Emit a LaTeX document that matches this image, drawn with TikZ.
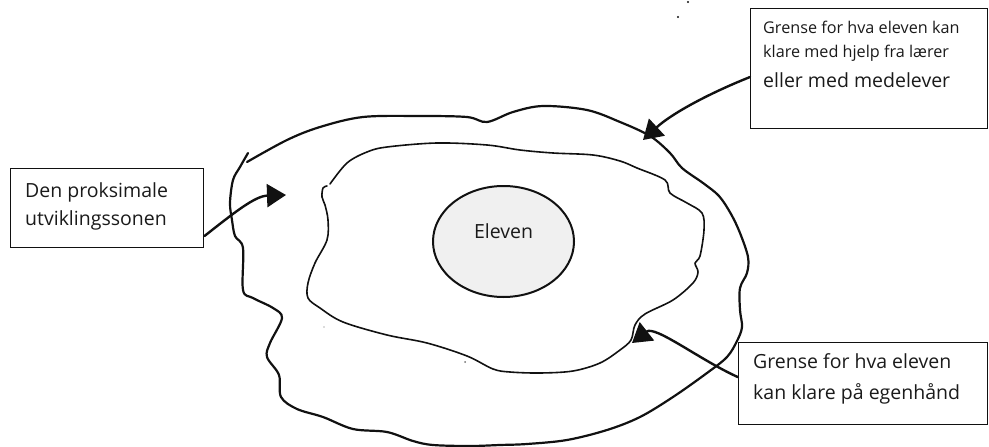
\documentclass[tikz,border=0pt]{standalone}
\usepackage{fontspec}
\newfontfamily\labelfont{Open Sans}
\usetikzlibrary{arrows.meta,shapes.geometric}

\definecolor{inkcol}{HTML}{111111}
\definecolor{textcol}{HTML}{1A1A1A}
\definecolor{corefill}{HTML}{F0F0F0}

\begin{document}
\begin{tikzpicture}[x=1pt,y=-1pt,
  zoneline/.style={draw=inkcol,line width=2.2pt,line cap=round,line join=round},
  innerline/.style={draw=inkcol,line width=1.6pt,line cap=round,line join=round},
  labelbox/.style={draw=inkcol,line width=1.4pt,rectangle,inner sep=0pt,anchor=north west},
  bigtxt/.style={font=\labelfont\fontsize{19.5}{24}\selectfont,text=textcol,inner sep=0pt,anchor=base west},
  smalltxt/.style={font=\labelfont\fontsize{16.2}{20}\selectfont,text=textcol,inner sep=0pt,anchor=base west},
  pointer/.style={draw=inkcol,line width=2.4pt,line cap=round,
    -{Triangle[length=19pt,width=23pt]}},
  core/.style={ellipse,draw=inkcol,line width=2pt,fill=corefill,
    minimum width=141pt,minimum height=111pt,inner sep=0pt,
    font=\labelfont\fontsize{19.5}{24}\selectfont,text=textcol,
    text height=14pt,text depth=21pt}
]
\useasboundingbox (0,0) rectangle (989,447);

% outer zone (the proximal development zone), hand drawn, open at top left
\draw[zoneline] plot[smooth,tension=0.55] coordinates {
  (247,162) (287,140) (320,127) (363,117) (420,116) (467,117) (487,122)
  (513,112) (543,106) (587,110) (620,122) (650,136) (670,153) (682,168)
  (703,183) (719,196) (731,214) (740,233) (748,257) (747,273) (740,288)
  (740,310) (742,327) (737,341) (727,357) (707,373) (673,397) (640,417)
  (607,430) (567,440) (527,444) (500,445) (470,446) (433,445) (413,441)
  (387,432) (353,429) (323,417) (297,409) (281,397) (279,375) (267,357)
  (270,343) (282,318) (273,308) (253,298) (243,290) (243,248) (235,236)
  (232,220) (230,203) (233,180) (240,167) (248,153)};

% inner zone (what the pupil manages alone)
\draw[innerline] plot[smooth,tension=0.55] coordinates {
  (330,184) (347,163) (367,152) (387,147) (437,143) (487,145) (520,150)
  (553,153) (593,155) (620,161) (637,168) (665,180) (670,193) (687,203)
  (702,213) (704,230) (700,256) (695,263) (698,272) (693,283) (673,300)
  (645,314) (635,325) (631,340) (620,350) (600,363) (573,371) (540,373)
  (510,372) (493,369) (467,356) (427,343) (387,335) (343,322) (320,308)
  (308,298) (308,283) (315,263) (327,240) (328,220) (325,205) (322,197)
  (323,188) (327,186)};

% the pupil
\node[core] (eleven) at (503.5,241.5) {Eleven};

% label boxes
\node[labelbox,minimum width=193pt,minimum height=79pt] (prox) at (10,168) {};
\node[bigtxt] (proxA) at (25,197) {Den proksimale};
\node[bigtxt] (proxB) at (25,225.3) {utviklingssonen};

\node[labelbox,minimum width=237pt,minimum height=120pt] (outerlim) at (750,8) {};
\node[smalltxt] (outerA) at (763,34) {Grense for hva eleven kan};
\node[smalltxt] (outerB) at (763,57) {klare med hjelp fra lærer};
\node[bigtxt] (outerC) at (763,87) {eller med medelever};

\node[labelbox,minimum width=249pt,minimum height=82pt] (innerlim) at (738,342) {};
\node[bigtxt] (innerA) at (753,368.3) {Grense for hva eleven};
\node[bigtxt] (innerB) at (753,399) {kan klare på egenhånd};

% pointers from the labels to the zone borders
\coordinate (proxtip) at (286,195);
\coordinate (outertip) at (643,140);
\coordinate (innertip) at (632,343);

\draw[pointer] (prox.-16) .. controls (235,212) and (255,196) .. (proxtip);
\draw[pointer] (outerlim.184) .. controls (705,95) and (670,115) .. (outertip);
\draw[pointer] (innerlim.177) .. controls (700,360) and (655,325) .. (innertip);

% stray pen marks
\fill[inkcol] (688,2) circle (1.2);
\fill[inkcol] (678,17) circle (1.2);
\fill[inkcol!60] (465,362) circle (1);
\fill[inkcol!30] (324,327) circle (0.8);
\end{tikzpicture}
\end{document}
